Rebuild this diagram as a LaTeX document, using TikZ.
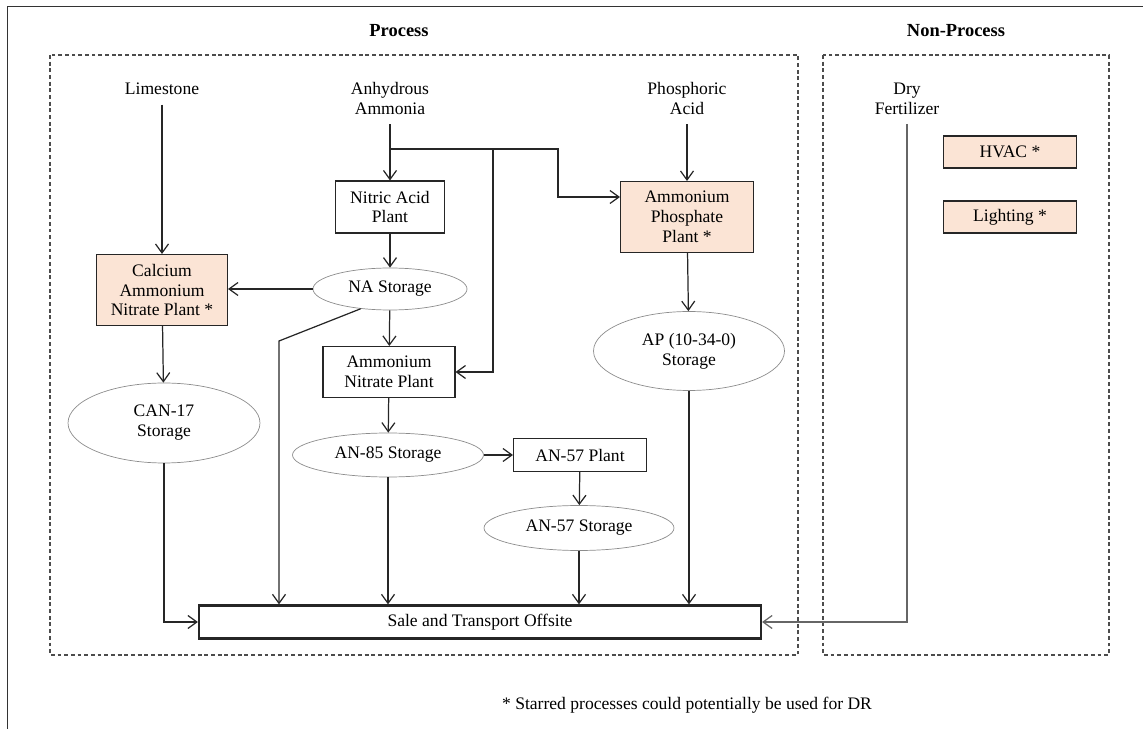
\documentclass[tikz,border=0pt]{standalone}
\usepackage{fontspec}
\setmainfont{Liberation Serif}
\usetikzlibrary{shapes.geometric,arrows.meta}
\definecolor{peach}{HTML}{FBE4D5}
\begin{document}
\begin{tikzpicture}
    [ x=0.02cm, y=-0.02cm
    , every node/.style={font=\fontsize{10}{11.3}\selectfont, align=center}
    , plant/.style={draw=black!85, line width=0.6pt, shape=rectangle, inner sep=1pt}
    , starred/.style={plant, fill=peach}
    , tank/.style={draw=black!45, line width=0.4pt, shape=ellipse, inner sep=0pt}
    , flow/.style={draw=black!85, line width=0.7pt, -{Straight Barb[length=1.8mm,width=2.6mm]}}
    , region/.style={draw=black!70, line width=0.6pt, dash pattern=on 2.2pt off 1.6pt}
    , title/.style={font=\fontsize{10.5}{12}\selectfont\bfseries}
    ]

    \useasboundingbox (0,0) rectangle (1143,729);
    \draw [black!80, line width=0.5pt] (7,729) -- (7,6) -- (1143,6);

    % regions
    \draw [region] (50,55) rectangle (798,655);
    \draw [region] (823,55) rectangle (1109,655);
    \node [title] (tProc) at (399,31) {Process};
    \node [title] (tNon)  at (956,31) {Non-Process};

    % inputs
    \node (lime)    at (162,89)   {Limestone};
    \node (ammonia) at (390,98.5) {Anhydrous\\Ammonia};
    \node (phos)    at (687,98.5) {Phosphoric\\Acid};
    \node (dry)     at (907,98.5) {Dry\\Fertilizer};

    % plants and storage
    \node [plant, minimum width=21.8mm, minimum height=10.4mm] (nitric) at (390,207) {Nitric Acid\\Plant};
    \node [starred, minimum width=26.6mm, minimum height=14.2mm] (apPlant) at (687,217) {Ammonium\\Phosphate\\Plant *};
    \node [starred, minimum width=26.2mm, minimum height=14.2mm] (canPlant) at (162,290) {Calcium\\Ammonium\\Nitrate Plant *};
    \node [tank, minimum width=30.8mm, minimum height=8.4mm] (naStor) at (390,289) {NA Storage};
    \node [plant, minimum width=26.4mm, minimum height=10.2mm] (anPlant) at (389,372) {Ammonium\\Nitrate Plant};
    \node [tank, minimum width=38.4mm, minimum height=16mm] (canStor) at (164,423) {CAN-17\\Storage};
    \node [tank, minimum width=38.2mm, minimum height=15.8mm] (apStor) at (689,351) {AP (10-34-0)\\Storage};
    \node [tank, minimum width=38.2mm, minimum height=8.8mm] (an85) at (388,455) {AN-85 Storage};
    \node [plant, minimum width=26.6mm, minimum height=6.6mm] (an57p) at (580,455) {AN-57 Plant};
    \node [tank, minimum width=38mm, minimum height=9mm] (an57s) at (579,528) {AN-57 Storage};
    \node [plant, line width=1.3pt, minimum width=112.4mm, minimum height=6.6mm] (sale) at (480,622) {Sale and Transport Offsite};

    % non-process loads
    \node [starred, minimum width=26.6mm, minimum height=6.4mm] (hvac)  at (1010,152) {HVAC *};
    \node [starred, minimum width=26.6mm, minimum height=6.4mm] (light) at (1010,217) {Lighting *};

    \node (note) at (687,705) {* Starred processes could potentially be used for DR};

    % flows
    \coordinate (split) at (390,149);
    \coordinate (tap)   at (493,149);
    \coordinate (knee)  at (558,197);
    \coordinate (bend)  at (279,341);

    \draw [flow, shorten <=2pt] (lime) -- (canPlant);
    \draw [flow, shorten <=2pt] (ammonia) -- (nitric);
    \draw [flow, shorten <=2pt] (phos) -- (apPlant);
    \draw [flow] (split) -| (knee) -- (knee -| apPlant.west);
    \draw [flow] (tap) |- (anPlant.east);
    \draw [flow] (nitric) -- (naStor);
    \draw [flow] (naStor.west) -- (naStor.west -| canPlant.east);
    \draw [flow] (naStor) -- (anPlant);
    \draw [flow] (naStor.214) -- (bend) -- (bend |- sale.north);
    \draw [flow] (canPlant) -- (canStor);
    \draw [flow] (canStor.south) |- (sale.west);
    \draw [flow] (anPlant) -- (an85);
    \draw [flow] (an85.east) -- (an57p.west);
    \draw [flow] (an85.south) -- (an85.south |- sale.north);
    \draw [flow] (an57p) -- (an57s);
    \draw [flow] (an57s.south) -- (an57s.south |- sale.north);
    \draw [flow] (apPlant) -- (apStor);
    \draw [flow] (apStor.south) -- (apStor.south |- sale.north);
    \draw [flow, draw=black!60, shorten <=2pt] (dry.south) |- (sale.east);

\end{tikzpicture}
\end{document}
